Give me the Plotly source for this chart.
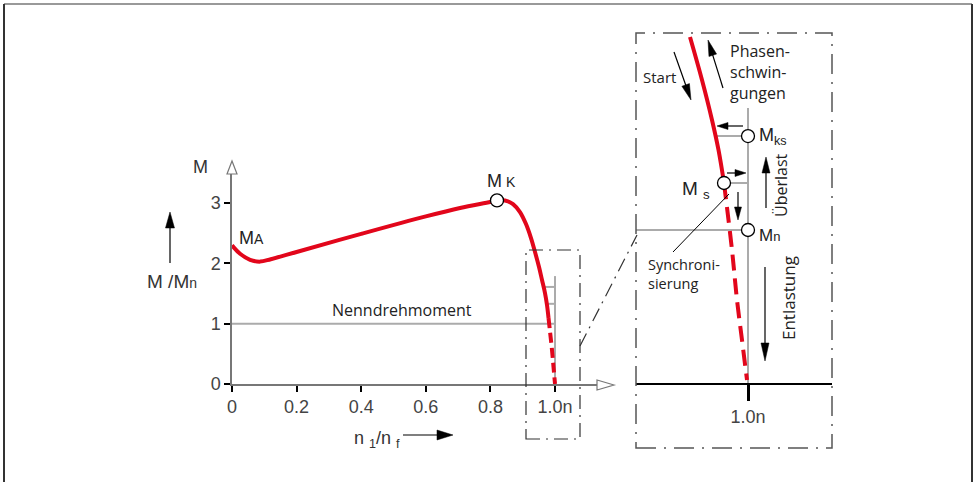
import math
import plotly.graph_objects as go

W, H = 975, 482

# ---------------- data ----------------
x_ticks = [0, 0.2, 0.4, 0.6, 0.8, 1.0]
x_ticktext = ["0", "0.2", "0.4", "0.6", "0.8", "1.0n"]
y_ticks = [0, 1, 2, 3]
y_ticktext = ["0", "1", "2", "3"]

# torque-speed curve (main chart), solid part
curve_x = [0.0, 0.025, 0.056, 0.087, 0.12, 0.2, 0.4, 0.6, 0.706, 0.8, 0.8204,
           0.8452, 0.870, 0.8916, 0.9102, 0.9257, 0.9381, 0.9505, 0.9598,
           0.9690, 0.9752, 0.9799]
curve_y = [2.30, 2.16, 2.06, 2.03, 2.07, 2.19, 2.49, 2.78, 2.92, 3.02, 3.045,
           3.045, 2.985, 2.852, 2.653, 2.421, 2.189, 1.940, 1.725,
           1.509, 1.310, 1.095]
# dashed part down to synchronous speed
curve_dash_x = [0.9799, 0.9845, 0.9907, 0.9954, 1.0]
curve_dash_y = [1.095, 0.871, 0.564, 0.282, 0.0]

mk_x = [0.8204]
mk_y = [3.045]
rated_x = [0.0, 1.0]
rated_y = [1.0, 1.0]
sync_line_x = [1.0, 1.0]
sync_line_y = [0.0, 1.79]
mini_tick_x = [0.969, 1.0]
mini_tick_levels = [1.61, 1.33]

# inset (zoom around n = 1.0)
inset_curve_x = [0.93012, 0.94458, 0.95663, 0.96446, 0.97108]
inset_curve_y = [2.2532, 1.9740, 1.7143, 1.5195, 1.3052]
inset_dash_x = [0.97108, 0.98072, 0.98675, 0.99277, 0.99880]
inset_dash_y = [1.3052, 0.8701, 0.5455, 0.2857, 0.026]
inset_pts_x = [1.0, 0.97108, 1.0]       # M_ks, M_s, M_n
inset_pts_y = [1.61, 1.3052, 1.0]
inset_vline_y = [0.0, 1.792]
mks_line_x = [0.9611, 1.0]
ms_line_x = [0.97108, 1.0]
mn_line_x = [0.865, 1.0]
inset_ticks = [1.0]
inset_ticktext = ["1.0n"]

# ---------------- helpers ----------------
def px(x):
    return x / W


def py(y):
    return 1 - y / H


RED = "#e2061b"
GRAY = "#ababab"
SANS = "Liberation Sans"
TXT = "Open Sans"

fig = go.Figure()

# main chart reference lines
fig.add_trace(go.Scatter(x=rated_x, y=rated_y, mode="lines",
                         line=dict(color=GRAY, width=2), xaxis="x", yaxis="y"))
fig.add_trace(go.Scatter(x=sync_line_x, y=sync_line_y, mode="lines",
                         line=dict(color=GRAY, width=2), xaxis="x", yaxis="y"))
for lv in mini_tick_levels:
    fig.add_trace(go.Scatter(x=mini_tick_x, y=[lv, lv], mode="lines",
                             line=dict(color=GRAY, width=2), xaxis="x", yaxis="y"))
fig.add_trace(go.Scatter(x=curve_x, y=curve_y, mode="lines",
                         line=dict(color=RED, width=4, shape="spline", smoothing=1.0),
                         xaxis="x", yaxis="y"))
fig.add_trace(go.Scatter(x=curve_dash_x, y=curve_dash_y, mode="lines",
                         line=dict(color=RED, width=4, dash="10px,5px",
                                   shape="spline", smoothing=1.0),
                         xaxis="x", yaxis="y"))
fig.add_trace(go.Scatter(x=mk_x, y=mk_y, mode="markers",
                         marker=dict(symbol="circle", size=13, color="white",
                                     line=dict(color="black", width=1.3)),
                         xaxis="x", yaxis="y"))

# inset
fig.add_trace(go.Scatter(x=[1.0, 1.0], y=inset_vline_y, mode="lines",
                         line=dict(color=GRAY, width=2), xaxis="x2", yaxis="y2"))
fig.add_trace(go.Scatter(x=mks_line_x, y=[inset_pts_y[0]] * 2, mode="lines",
                         line=dict(color=GRAY, width=2), xaxis="x2", yaxis="y2"))
fig.add_trace(go.Scatter(x=ms_line_x, y=[inset_pts_y[1]] * 2, mode="lines",
                         line=dict(color=GRAY, width=2), xaxis="x2", yaxis="y2"))
fig.add_trace(go.Scatter(x=mn_line_x, y=[inset_pts_y[2]] * 2, mode="lines",
                         line=dict(color=GRAY, width=2), xaxis="x2", yaxis="y2"))
fig.add_trace(go.Scatter(x=inset_curve_x, y=inset_curve_y, mode="lines",
                         line=dict(color=RED, width=4, shape="spline", smoothing=1.0),
                         xaxis="x2", yaxis="y2"))
fig.add_trace(go.Scatter(x=inset_dash_x, y=inset_dash_y, mode="lines",
                         line=dict(color=RED, width=4, dash="16px,8px",
                                   shape="spline", smoothing=1.0),
                         xaxis="x2", yaxis="y2"))
fig.add_trace(go.Scatter(x=inset_pts_x, y=inset_pts_y, mode="markers",
                         marker=dict(symbol="circle", size=13, color="white",
                                     line=dict(color="black", width=1.3)),
                         xaxis="x2", yaxis="y2"))

shapes = []


def seg(x0, y0, x1, y1, color="black", width=1.2, dash="solid"):
    shapes.append(dict(type="line", xref="paper", yref="paper",
                       x0=px(x0), y0=py(y0), x1=px(x1), y1=py(y1),
                       line=dict(color=color, width=width, dash=dash)))


def poly(points, fill="black", line="black", width=1.0):
    p = "M" + " L".join(f"{px(a):.5f},{py(b):.5f}" for a, b in points) + " Z"
    shapes.append(dict(type="path", xref="paper", yref="paper", path=p,
                       fillcolor=fill, line=dict(color=line, width=width)))


def arrow(tx, ty, hx, hy, hl=15, hw=8, width=1.2):
    dx, dy = hx - tx, hy - ty
    L = math.hypot(dx, dy)
    ux, uy = dx / L, dy / L
    bx, by = hx - ux * hl, hy - uy * hl
    nx, ny = -uy, ux
    seg(tx, ty, bx + ux * 2, by + uy * 2, width=width)
    poly([(hx, hy), (bx + nx * hw / 2, by + ny * hw / 2),
          (bx - nx * hw / 2, by - ny * hw / 2)], width=0.5)


# outer frame
seg(4, 4, 972, 4, color="#999999", width=2)
seg(4, 4, 4, 482, color="#333333", width=2)
seg(972, 4, 972, 482, color="#333333", width=2)

# axis open arrowheads
poly([(232, 161), (227, 174), (237, 174)], fill="white", line="#777777", width=1.2)
poly([(614, 385), (597, 380), (597, 390)], fill="white", line="#777777", width=1.2)

# dash-dot zoom boxes
DD1 = "14px,6px,2px,6px"
DD2 = "20px,8px,2px,8px"
shapes.append(dict(type="rect", xref="paper", yref="paper",
                   x0=px(526), y0=py(439), x1=px(580), y1=py(250),
                   line=dict(color="#333333", width=1.2, dash=DD1)))
shapes.append(dict(type="rect", xref="paper", yref="paper",
                   x0=px(636), y0=py(448), x1=px(832), y1=py(33),
                   line=dict(color="#555555", width=1.5, dash=DD2)))
seg(580, 346, 637, 235, color="#333333", width=1.2, dash=DD1)

# arrows
arrow(170, 263, 170, 212, hl=16, hw=9)            # M/Mn
arrow(403, 435, 453, 435, hl=16, hw=10)           # n1/nf
arrow(674, 52, 691, 100, hl=16, hw=8)             # Start
arrow(723, 88, 708, 40, hl=16, hw=8)              # Phasenschwingungen
arrow(743, 126, 717, 126, hl=11, hw=7)            # to M_ks
arrow(727, 173, 746, 173, hl=11, hw=7)            # from M_s
arrow(738, 192, 738, 220, hl=13, hw=7)            # down
arrow(766, 208, 766, 157, hl=16, hw=8)            # Ueberlast
arrow(765, 267, 765, 361, hl=18, hw=8)            # Entlastung
seg(673, 252, 729, 194, width=1.0)                # Synchronisierung leader

annotations = []


def txt(text, x, y, size=16, xanchor="left", yanchor="middle", family=TXT,
        color="#222222", angle=0, align="left"):
    annotations.append(dict(text=text, x=px(x), y=py(y), xref="paper", yref="paper",
                            showarrow=False, xanchor=xanchor, yanchor=yanchor,
                            textangle=angle, align=align,
                            font=dict(size=size, family=family, color=color)))


txt("M", 200, 167, size=18, xanchor="center", family=SANS, color="#333333")
txt("M<span style='font-size:14px'>A</span>", 237, 238, size=18, family=SANS)
txt("M<span style='font-size:14px'> K</span>", 485, 181, size=18, family=SANS)
txt("Nenndrehmoment", 402, 310, size=16, xanchor="center")
txt("M /M<span style='font-size:14px'>n</span>", 145, 281, size=19, family=SANS,
    color="#333333")
txt("n <sub>1</sub>/n <sub>f</sub>", 352, 439, size=18, family=SANS, color="#333333")
txt("Phasen-<br>schwin-<br>gungen", 728, 38, size=16, yanchor="top")
txt("Start", 641, 77, size=15)
txt("M<sub>ks</sub>", 757, 136, size=18, family=SANS)
txt("M <sub>s</sub>", 680, 190, size=19, family=SANS)
txt("M<span style='font-size:13px'>n</span>", 757, 235, size=17, family=SANS)
txt("Synchroni-<br>sierung", 646, 253, size=14.5, yanchor="top")
txt("Überlast", 781, 185, size=16, xanchor="center", angle=-90)
txt("Entlastung", 788, 298, size=17, xanchor="center", angle=-90)

axis_common = dict(showgrid=False, zeroline=False, fixedrange=True)

fig.update_layout(
    width=W, height=H, margin=dict(l=0, r=0, t=0, b=0),
    template="none", showlegend=False,
    paper_bgcolor="white", plot_bgcolor="rgba(0,0,0,0)",
    xaxis=dict(domain=[px(232), px(597)], range=[0, 1.13], anchor="y",
               showline=True, linecolor="#777777", linewidth=1.5,
               ticks="outside", ticklen=6, tickwidth=2, tickcolor="black",
               tickvals=x_ticks, ticktext=x_ticktext,
               tickfont=dict(size=18, family=SANS, color="#444444"), **axis_common),
    yaxis=dict(domain=[py(384), py(173)], range=[0, 3.5], anchor="x",
               showline=True, linecolor="#777777", linewidth=1.5,
               ticks="outside", ticklen=6, tickwidth=2, tickcolor="black",
               tickvals=y_ticks, ticktext=y_ticktext,
               tickfont=dict(size=18, family=SANS, color="#444444"), **axis_common),
    xaxis2=dict(domain=[px(636), px(832)], range=[0.86506, 1.10120],
                anchor="free", position=py(384),
                showline=True, linecolor="black", linewidth=2,
                ticks="outside", ticklen=16, tickwidth=2.5, tickcolor="black",
                tickvals=inset_ticks, ticktext=inset_ticktext,
                tickfont=dict(size=18, family=SANS, color="#444444"), **axis_common),
    yaxis2=dict(domain=[py(448), py(33)], range=[-0.4156, 2.279], anchor="x2",
                visible=False, **axis_common),
    shapes=shapes, annotations=annotations,
)

fig.write_html("out.html", config={"displayModeBar": False},
               post_script="document.body.style.margin='0px';"
                           "document.body.style.padding='0px';")
